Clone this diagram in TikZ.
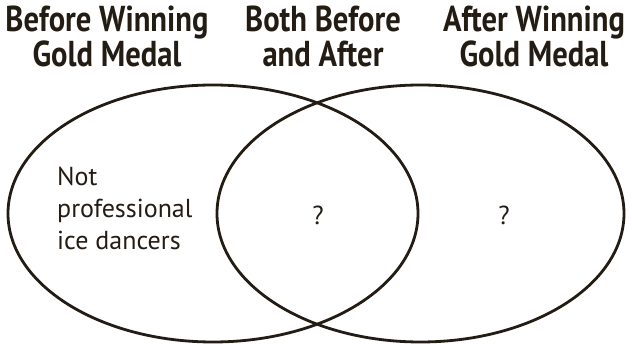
\documentclass[tikz,border=0pt]{standalone}
\usepackage{fontspec}
\setmainfont{PT Sans}
\newfontfamily\headfont[FakeStretch=0.85]{PT Sans}
\newfontfamily\bodyfont{PT Sans}
\usepackage{tikz}
\usetikzlibrary{positioning}
\definecolor{ink}{RGB}{35,28,20}

\begin{document}
\begin{tikzpicture}[
  x=1pt,y=-1pt,
  heading/.style={align=center,inner sep=0pt,anchor=base,text=ink,
    font=\headfont\bfseries\fontsize{36}{35}\selectfont},
  entry/.style={align=left,inner sep=0pt,anchor=base west,text=ink,
    font=\bodyfont\fontsize{26}{32}\selectfont},
  query/.style={inner sep=0pt,anchor=base,text=ink,
    font=\bodyfont\fontsize{26}{32}\selectfont},
  set/.style={draw=ink,line width=2.8pt}
]
\useasboundingbox (0,0) rectangle (632,344);

% the two overlapping sets
\draw[set] (213,213.5) ellipse [x radius=205pt,y radius=128.5pt];
\draw[set] (420.5,213.5) ellipse [x radius=203.5pt,y radius=128.5pt];

% column headings (base = baseline of the lower line)
\node[heading] (before) at (107,67) {Before Winning\\Gold Medal};
\node[heading] (both) at (323,67) {Both Before\\and After};
\node[heading] (after) at (534,67) {After Winning\\Gold Medal};

% contents of each region
\node[entry] (notpro) at (57,250) {Not\\professional\\ice dancers};
\node[query] (mid) at (318,225) {?};
\node[query] (right) at (504,225) {?};

\end{tikzpicture}
\end{document}
